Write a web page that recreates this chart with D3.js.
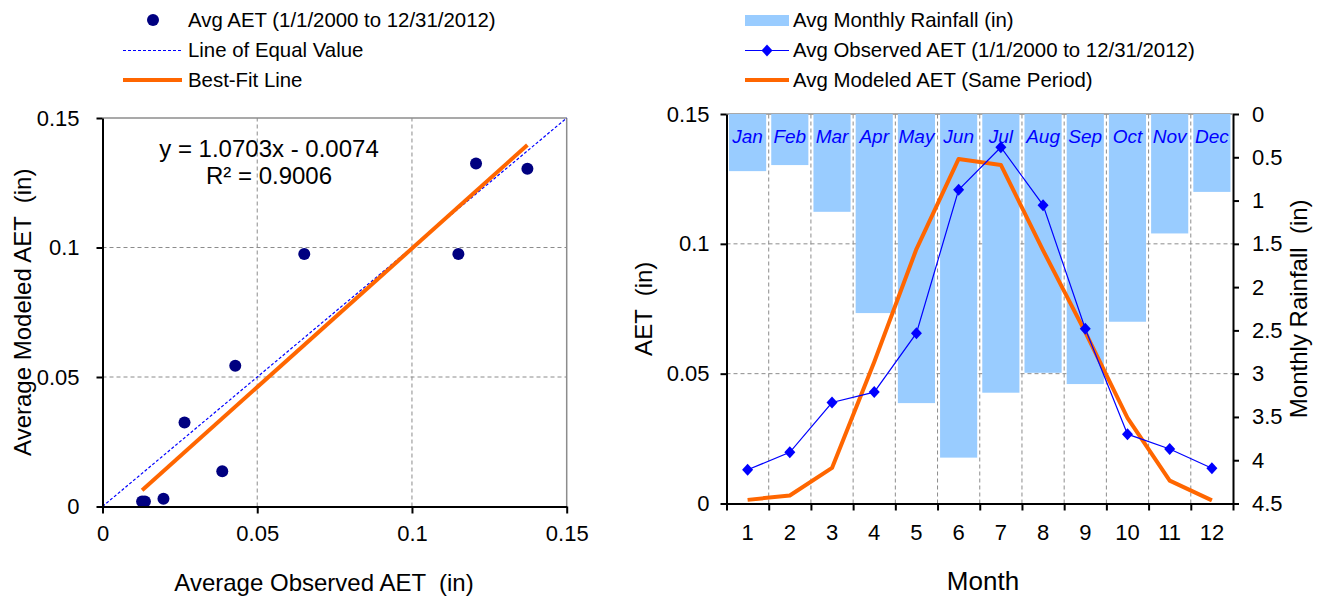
<!DOCTYPE html>
<html><head><meta charset="utf-8">
<script src="https://cdn.jsdelivr.net/npm/d3@7"></script>
<style>
body{margin:0;background:#fff}
svg{display:block}
text{font-family:"Liberation Sans",Arial,Helvetica,sans-serif;fill:#000}
</style>
</head><body>
<svg id="c" width="1319" height="596"></svg>
<script>
// ---------- DATA ----------
// Left: scatter of observed vs modeled average AET (in)
const scatterObserved = [0.0128, 0.0137, 0.0197, 0.0265, 0.0387, 0.0429, 0.0652, 0.1150, 0.1207, 0.1373];
const scatterModeled  = [0.0019, 0.0019, 0.0030, 0.0324, 0.0136, 0.0543, 0.0975, 0.0975, 0.1324, 0.1304];
const fitSlope = 1.0703;
const fitIntercept = -0.0074;
const fitText = "y = 1.0703x - 0.0074";
const r2Text = "R\u00B2 = 0.9006";
const aetTicks = [0, 0.05, 0.1, 0.15];

// Right: monthly
const months = [1,2,3,4,5,6,7,8,9,10,11,12];
const monthNames = ["Jan","Feb","Mar","Apr","May","Jun","Jul","Aug","Sep","Oct","Nov","Dec"];
const observedAET = [0.0130, 0.0197, 0.0389, 0.0429, 0.0656, 0.1208, 0.1372, 0.1149, 0.0673, 0.0267, 0.0210, 0.0136];
const modeledAET  = [0.0014, 0.0031, 0.0137, 0.0545, 0.0980, 0.1327, 0.1304, 0.0975, 0.0660, 0.0330, 0.0088, 0.0012];
const rainfall    = [0.66, 0.59, 1.13, 2.30, 3.34, 3.97, 3.22, 2.99, 3.12, 2.40, 1.38, 0.90];
const rainTicks = [0, 0.5, 1, 1.5, 2, 2.5, 3, 3.5, 4, 4.5];

// ---------- STYLE ----------
const ORANGE = "#ff6600", BLUE = "#0000ff", NAVY = "#000080", BARC = "#99ccff", GRID = "#8c8c8c";
const fmt = d3.format("~g");
const svg = d3.select("#c");

function styleAxis(g, fs){
  g.select(".domain").attr("stroke","#000").attr("stroke-width",2);
  g.selectAll(".tick line").attr("stroke","#000").attr("stroke-width",2);
  g.selectAll(".tick text").attr("font-size",fs).attr("font-family",'"Liberation Sans",Arial,sans-serif').attr("fill","#000");
}

// ================= LEFT CHART =================
const L = {x0:102.5, x1:566.7, y0:506.5, y1:118};
const xL = d3.scaleLinear().domain([0,0.15]).range([L.x0,L.x1]);
const yL = d3.scaleLinear().domain([0,0.15]).range([L.y0,L.y1]);
const gL = svg.append("g");

gL.selectAll("line.vg").data(aetTicks.filter(d=>d>0 && d<0.15)).join("line")
  .attr("x1",d=>xL(d)).attr("x2",d=>xL(d)).attr("y1",L.y0).attr("y2",L.y1)
  .attr("stroke",GRID).attr("stroke-dasharray","4,3");
gL.selectAll("line.hg").data(aetTicks.filter(d=>d>0 && d<0.15)).join("line")
  .attr("x1",L.x0).attr("x2",L.x1).attr("y1",d=>yL(d)).attr("y2",d=>yL(d))
  .attr("stroke",GRID).attr("stroke-dasharray","4,3");
gL.append("line").attr("x1",L.x0).attr("x2",L.x1).attr("y1",L.y1).attr("y2",L.y1).attr("stroke",GRID).attr("stroke-width",1.5);
gL.append("line").attr("x1",L.x1).attr("x2",L.x1).attr("y1",L.y1).attr("y2",L.y0).attr("stroke",GRID).attr("stroke-width",1.5);

// line of equal value
gL.append("line").attr("x1",xL(0)).attr("y1",yL(0)).attr("x2",xL(0.15)).attr("y2",yL(0.15))
  .attr("stroke",BLUE).attr("stroke-width",1.2).attr("stroke-dasharray","3,2");
// best fit
const fxMin = d3.min(scatterObserved), fxMax = d3.max(scatterObserved);
gL.append("line").attr("x1",xL(fxMin)).attr("y1",yL(fitSlope*fxMin+fitIntercept))
  .attr("x2",xL(fxMax)).attr("y2",yL(fitSlope*fxMax+fitIntercept))
  .attr("stroke",ORANGE).attr("stroke-width",4);
// dots
gL.selectAll("circle.pt").data(scatterObserved.map((v,i)=>[v,scatterModeled[i]])).join("circle")
  .attr("cx",d=>xL(d[0])).attr("cy",d=>yL(d[1])).attr("r",6).attr("fill",NAVY);

// equation
gL.append("text").attr("x",269).attr("y",157).attr("text-anchor","middle").attr("font-size",24).text(fitText);
gL.append("text").attr("x",269).attr("y",184).attr("text-anchor","middle").attr("font-size",24).text(r2Text);

// axes
svg.append("g").attr("transform",`translate(${L.x0},0)`)
  .call(d3.axisLeft(yL).tickValues(aetTicks).tickFormat(fmt).tickSize(6).tickSizeOuter(0).tickPadding(17))
  .call(g=>styleAxis(g,22));
svg.append("g").attr("transform",`translate(0,${L.y0})`)
  .call(d3.axisBottom(xL).tickValues(aetTicks).tickFormat(fmt).tickSize(7).tickSizeOuter(0).tickPadding(12))
  .call(g=>styleAxis(g,22));

// titles
svg.append("text").attr("x",324).attr("y",591).attr("text-anchor","middle").attr("font-size",24)
  .attr("xml:space","preserve").text("Average Observed AET  (in)");
svg.append("text").attr("transform",`translate(31,${(L.y0+L.y1)/2}) rotate(-90)`).attr("text-anchor","middle").attr("font-size",24)
  .attr("xml:space","preserve").text("Average Modeled AET  (in)");

// legend left
const lgL = svg.append("g");
lgL.append("circle").attr("cx",153).attr("cy",20).attr("r",6).attr("fill",NAVY);
lgL.append("line").attr("x1",123).attr("x2",182).attr("y1",50.5).attr("y2",50.5).attr("stroke",BLUE).attr("stroke-width",1.2).attr("stroke-dasharray","3,2");
lgL.append("line").attr("x1",123).attr("x2",182).attr("y1",80).attr("y2",80).attr("stroke",ORANGE).attr("stroke-width",4);
lgL.append("text").attr("x",188).attr("y",27).attr("font-size",20.4).text("Avg AET (1/1/2000 to 12/31/2012)");
lgL.append("text").attr("x",188).attr("y",57).attr("font-size",20.4).text("Line of Equal Value");
lgL.append("text").attr("x",188).attr("y",87).attr("font-size",20.4).text("Best-Fit Line");

// ================= RIGHT CHART =================
const R = {x0:726.5, x1:1233, y0:503.5, y1:114};
const band = d3.scaleBand().domain(months).range([R.x0,R.x1]).paddingInner(0.12).paddingOuter(0.06);
const xEdge = d3.scaleLinear().domain([0,months.length]).range([R.x0,R.x1]);
const yR = d3.scaleLinear().domain([0,0.15]).range([R.y0,R.y1]);
const yRain = d3.scaleLinear().domain([0,4.5]).range([R.y1,R.y0]);
const edges = d3.range(0, months.length+1);
const gR = svg.append("g");

gR.selectAll("line.vg").data(edges.slice(1,-1)).join("line")
  .attr("x1",d=>xEdge(d)).attr("x2",d=>xEdge(d)).attr("y1",R.y0).attr("y2",R.y1)
  .attr("stroke",GRID).attr("stroke-dasharray","4,3");
gR.selectAll("line.hg").data(aetTicks.filter(d=>d>0 && d<0.15)).join("line")
  .attr("x1",R.x0).attr("x2",R.x1).attr("y1",d=>yR(d)).attr("y2",d=>yR(d))
  .attr("stroke",GRID).attr("stroke-dasharray","4,3");
gR.append("line").attr("x1",R.x0).attr("x2",R.x1).attr("y1",R.y1).attr("y2",R.y1).attr("stroke",GRID).attr("stroke-width",1.5);

// bars (hanging from top, inverted axis)
gR.selectAll("rect.bar").data(months.map((m,i)=>[m,rainfall[i]])).join("rect")
  .attr("x",d=>band(d[0])).attr("y",yRain(0)).attr("width",band.bandwidth())
  .attr("height",d=>yRain(d[1])-yRain(0)).attr("fill",BARC);

// month names
gR.selectAll("text.mn").data(months.map((m,i)=>[m,monthNames[i]])).join("text")
  .attr("x",d=>band(d[0])+band.bandwidth()/2).attr("y",143).attr("text-anchor","middle")
  .attr("font-size",19).attr("font-style","italic").style("fill",BLUE).text(d=>d[1]);

const cx = m => band(m)+band.bandwidth()/2;
// modeled
gR.append("path").datum(months.map((m,i)=>[m,modeledAET[i]]))
  .attr("d",d3.line().x(d=>cx(d[0])).y(d=>yR(d[1])))
  .attr("fill","none").attr("stroke",ORANGE).attr("stroke-width",4).attr("stroke-linejoin","round");
// observed
gR.append("path").datum(months.map((m,i)=>[m,observedAET[i]]))
  .attr("d",d3.line().x(d=>cx(d[0])).y(d=>yR(d[1])))
  .attr("fill","none").attr("stroke",BLUE).attr("stroke-width",1.2);
const dia = "M0,-6L5.5,0L0,6L-5.5,0Z";
gR.selectAll("path.dm").data(months.map((m,i)=>[m,observedAET[i]])).join("path")
  .attr("d",dia).attr("transform",d=>`translate(${cx(d[0])},${yR(d[1])})`).attr("fill",BLUE);

// axes
svg.append("g").attr("transform",`translate(${R.x0},0)`)
  .call(d3.axisLeft(yR).tickValues(aetTicks).tickFormat(fmt).tickSize(6).tickSizeOuter(0).tickPadding(11))
  .call(g=>styleAxis(g,22));
svg.append("g").attr("transform",`translate(${R.x1},0)`)
  .call(d3.axisRight(yRain).tickValues(rainTicks).tickFormat(fmt).tickSize(6).tickSizeOuter(0).tickPadding(13))
  .call(g=>styleAxis(g,22));
svg.append("g").attr("transform",`translate(0,${R.y0})`)
  .call(d3.axisBottom(xEdge).tickValues(edges).tickFormat("").tickSize(7).tickSizeOuter(0))
  .call(g=>styleAxis(g,22));
svg.append("g").attr("transform",`translate(0,${R.y0})`)
  .call(d3.axisBottom(band).tickSize(0).tickPadding(21))
  .call(g=>{styleAxis(g,22); g.select(".domain").remove();});

// titles
svg.append("text").attr("x",983).attr("y",590).attr("text-anchor","middle").attr("font-size",26).text("Month");
svg.append("text").attr("transform",`translate(652,${(R.y0+R.y1)/2}) rotate(-90)`).attr("text-anchor","middle").attr("font-size",24)
  .attr("xml:space","preserve").text("AET  (in)");
svg.append("text").attr("transform",`translate(1307,${(R.y0+R.y1)/2}) rotate(-90)`).attr("text-anchor","middle").attr("font-size",24)
  .attr("xml:space","preserve").text("Monthly Rainfall  (in)");

// legend right
const lgR = svg.append("g");
lgR.append("rect").attr("x",745).attr("y",15).attr("width",44).attr("height",11).attr("fill",BARC);
lgR.append("line").attr("x1",745).attr("x2",789).attr("y1",50.5).attr("y2",50.5).attr("stroke",BLUE).attr("stroke-width",1.2);
lgR.append("path").attr("d",dia).attr("transform","translate(767,50.5)").attr("fill",BLUE);
lgR.append("line").attr("x1",745).attr("x2",789).attr("y1",80).attr("y2",80).attr("stroke",ORANGE).attr("stroke-width",4);
lgR.append("text").attr("x",793).attr("y",27).attr("font-size",20.4).text("Avg Monthly Rainfall (in)");
lgR.append("text").attr("x",793).attr("y",57).attr("font-size",20.4).text("Avg Observed AET (1/1/2000 to 12/31/2012)");
lgR.append("text").attr("x",793).attr("y",87).attr("font-size",20.4).text("Avg Modeled AET (Same Period)");
</script>
</body></html>
